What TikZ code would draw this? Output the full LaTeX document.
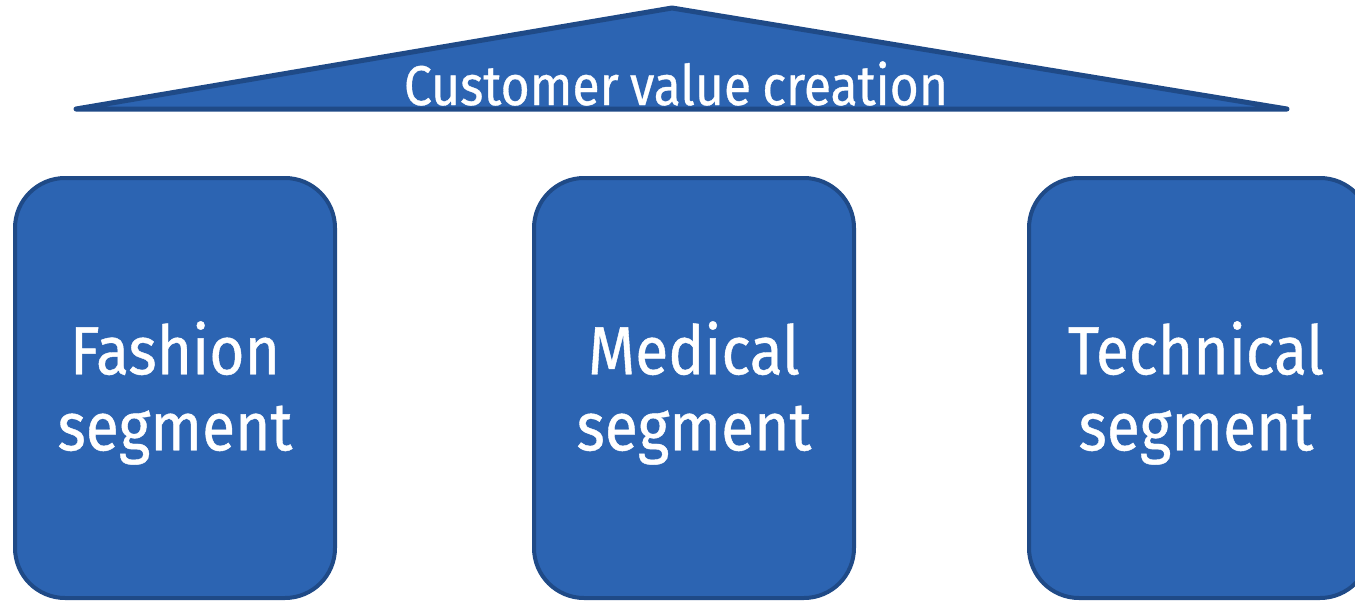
\documentclass[tikz,border=0pt]{standalone}
\usepackage{fontspec}
\setmainfont{Fira Sans}[FakeStretch=0.89,FakeBold=0.6]
\definecolor{boxfill}{RGB}{44,100,178}
\definecolor{boxline}{RGB}{31,74,135}
\begin{document}
\begin{tikzpicture}[x=1pt,y=-1pt,
  seg/.style={draw=boxline,fill=boxfill,line width=4pt,rounded corners=50pt},
  segtext/.style={text=white,font=\fontsize{68}{76}\selectfont,align=center},
  roof/.style={draw=boxline,fill=boxfill,line width=5pt,line join=round,line cap=round}]
\useasboundingbox (0,0) rectangle (1355,600);
\begin{scope}
\clip (0,0) rectangle (1355,600);
\draw[roof] (76,109) coordinate (rl) -- (672,8) coordinate (ra) -- (1287,109) coordinate (rr) -- cycle;
\node[text=white,font=\fontsize{56}{60}\selectfont,anchor=base] (roofText) at (676,105) {Customer\hspace{0.2em}value\hspace{0.2em}creation};
\draw[seg] (15,178) rectangle (335,598);
\draw[seg] (534,178) rectangle (854,598);
\draw[seg] (1029,178) rectangle (1370,598);
\node[segtext] (fashion) at (175,393) {Fashion\\segment};
\node[segtext] (medical) at (694,393) {Medical\\segment};
\node[segtext] (technical) at (1196,393) {Technical\\segment};
\end{scope}
\end{tikzpicture}
\end{document}
